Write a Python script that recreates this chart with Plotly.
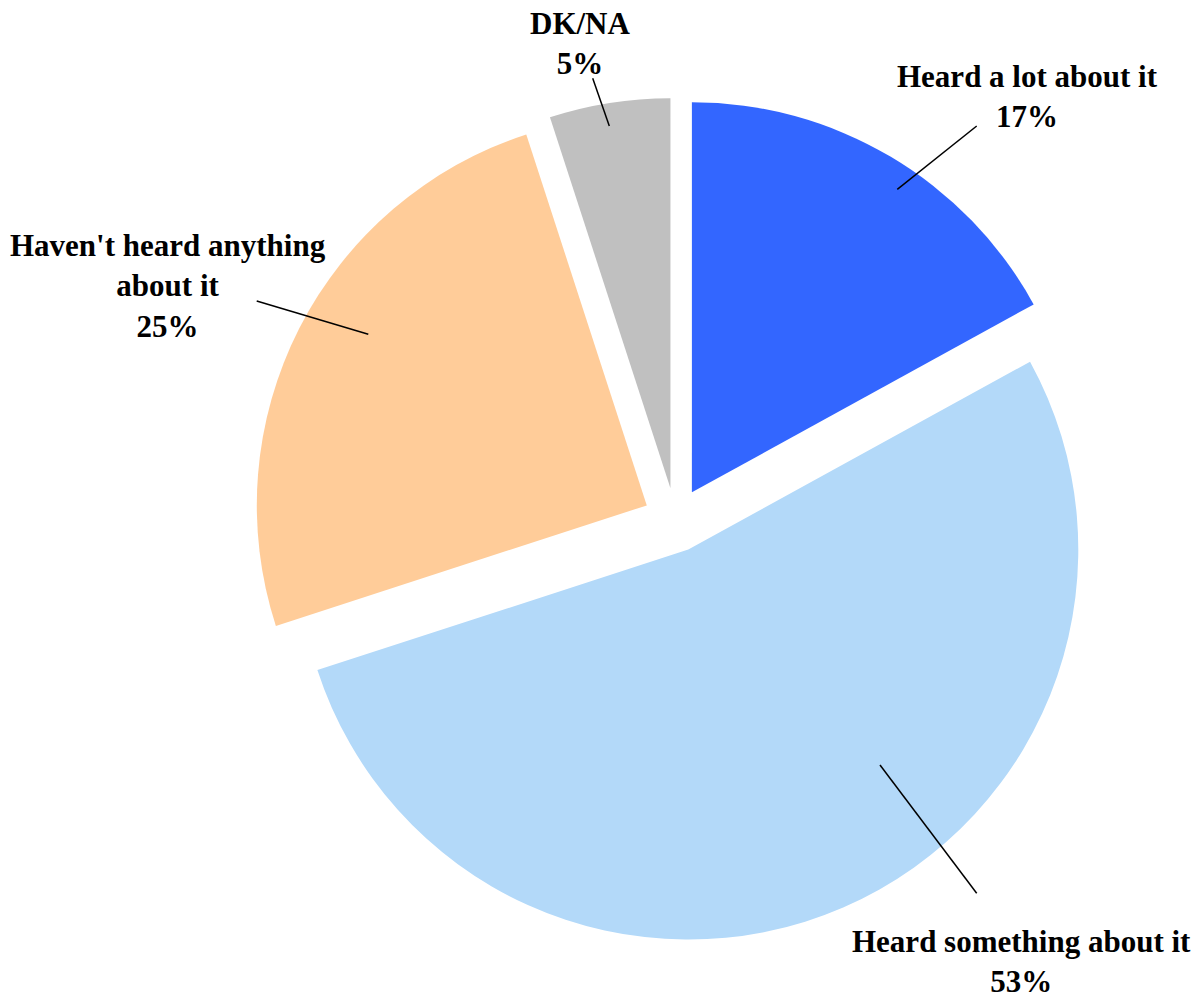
import plotly.graph_objects as go

W, H = 1196, 999

labels = ["Heard a lot about it", "Heard something about it",
          "Haven't heard anything about it", "DK/NA"]
values = [17, 53, 25, 5]
colors = ["#3366FF", "#B3D9F9", "#FFCC99", "#C0C0C0"]

# label text as shown on the chart (line breaks as in the original)
label_text = ["Heard a lot about it<br>17%",
              "Heard something about it<br>53%",
              "Haven't heard anything<br>about it<br>25%",
              "DK/NA<br>5%"]

# layout positions in pixels (label centre, leader line start/end)
label_pos = [(1027, 96), (1021, 961), (168, 286), (580, 43)]
leader_lines = [((976.7, 126), (897.3, 189.3)),
                ((976.7, 893.3), (880, 765)),
                ((256.7, 301), (368.3, 334.3)),
                ((592.7, 78.3), (609.3, 126))]

pull = 0.0826
cx, cy, r = 675.5, 520, 390


def px(x):
    return x / W


def py(y):
    return 1 - y / H


half = r * (1 + pull)

fig = go.Figure(go.Pie(
    labels=labels,
    values=values,
    sort=False,
    direction="clockwise",
    rotation=0,
    pull=[pull] * len(values),
    marker=dict(colors=colors, line=dict(width=0)),
    textinfo="none",
    hoverinfo="label+percent",
    domain=dict(x=[px(cx - half), px(cx + half)],
                y=[py(cy + half), py(cy - half)]),
    showlegend=False,
))

font = dict(family="Liberation Serif, Times New Roman, serif", size=31,
            color="black")

for txt, (lx, ly) in zip(label_text, label_pos):
    fig.add_annotation(x=px(lx), y=py(ly), xref="paper", yref="paper",
                       text="<b>" + txt + "</b>", showarrow=False,
                       xanchor="center", yanchor="middle", align="center",
                       font=font)

for (x0, y0), (x1, y1) in leader_lines:
    fig.add_shape(type="line", xref="paper", yref="paper",
                  x0=px(x0), y0=py(y0), x1=px(x1), y1=py(y1),
                  line=dict(color="black", width=1.5))

fig.update_layout(
    width=W, height=H,
    margin=dict(l=0, r=0, t=0, b=0),
    paper_bgcolor="white",
    plot_bgcolor="white",
)

# drop the browser's default body margin so the chart fills the window
fig.write_html("out.html",
               config={"displayModeBar": False},
               post_script="document.body.style.margin='0';"
                           "document.body.style.overflow='hidden';")
